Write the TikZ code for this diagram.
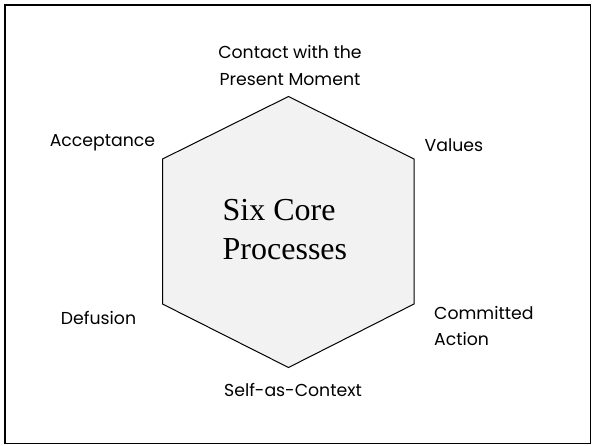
\documentclass[tikz,border=0pt]{standalone}
\usepackage{fontspec}
\setmainfont{Liberation Serif}
\newfontfamily\labelfont{Poppins}
\begin{document}
\begin{tikzpicture}[x=1pt,y=-1pt,
  lbl/.style={inner sep=0pt,font=\labelfont\fontsize{17.3}{20}\selectfont},
  core/.style={inner sep=0pt,anchor=base west,font=\fontsize{32}{38}\selectfont},
  hexa/.style={draw=black,line width=1pt,fill=black!5,line join=miter}]
\useasboundingbox (0,0) rectangle (592,445);
\draw[line width=1.6pt] (5,5) rectangle (590.5,443.5);
\draw[hexa] (288.5,96.5) -- (414,159) -- (414,304) -- (288.5,367.5) -- (162.5,304) -- (162.5,159) -- cycle;
\node[core] (c1) at (222.5,220) {Six Core};
\node[core] (c2) at (222.5,259) {Processes};
\node[lbl,anchor=base] (p1) at (290,58) {Contact with the};
\node[lbl,anchor=base] (p2) at (290,85) {Present Moment};
\node[lbl,anchor=base] (acc) at (102.5,146.5) {Acceptance};
\node[lbl,anchor=base west] (val) at (424.5,151.5) {Values};
\node[lbl,anchor=base] (def) at (98.5,324) {Defusion};
\node[lbl,anchor=base west] (com1) at (434,319) {Committed};
\node[lbl,anchor=base west] (com2) at (434,345.5) {Action};
\node[lbl,anchor=base] (sac) at (293,396) {Self-as-Context};
\end{tikzpicture}
\end{document}
